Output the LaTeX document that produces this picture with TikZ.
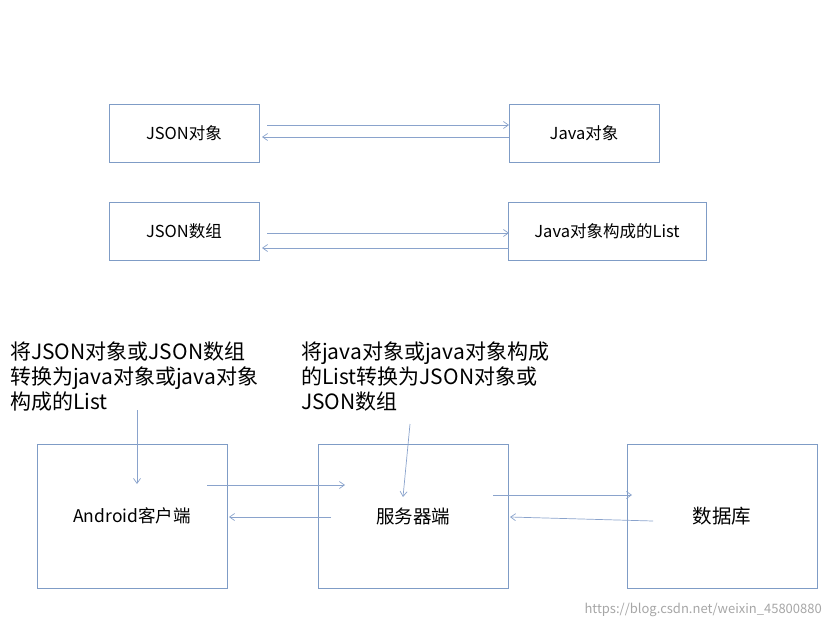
\documentclass[tikz,border=0pt]{standalone}
\usepackage{fontspec}
\setmainfont{Noto Sans CJK SC}
\usetikzlibrary{arrows.meta}
\definecolor{bx}{HTML}{7F9CC6}
\definecolor{ar}{HTML}{8AA3CC}
\begin{document}
\begin{tikzpicture}[x=1pt,y=-1pt,
 box/.style={draw=bx,line width=0.8pt,inner sep=0pt,font=\fontsize{16.5}{18}\selectfont},
 arr/.style={draw=ar,line width=0.7pt,-{Straight Barb[length=5pt,width=7pt]}},
 note/.style={anchor=north west,align=left,inner sep=0pt,font=\fontsize{21}{25}\selectfont}]
\useasboundingbox (0,0) rectangle (834,629);
\node[box,minimum width=150pt,minimum height=58pt] (jo) at (184,133) {JSON对象};
\node[box,minimum width=150pt,minimum height=58pt] (ja) at (584,133) {Java对象};
\node[box,minimum width=150pt,minimum height=58pt] (js) at (184,231) {JSON数组};
\node[box,minimum width=198pt,minimum height=58pt] (jl) at (607,231) {Java对象构成的List};
\draw[arr] (267,125) -- (509,125);
\draw[arr] (509,137) -- (262,137);
\draw[arr] (267,233) -- (509,233);
\draw[arr] (509,248) -- (262,248);
\node[box,minimum width=190pt,minimum height=144pt,font=\fontsize{17.5}{19}\selectfont] (an) at (132,516) {Android客户端};
\node[box,minimum width=190pt,minimum height=144pt,font=\fontsize{18.5}{19}\selectfont] (sv) at (413,516) {服务器端};
\node[box,minimum width=190pt,minimum height=144pt,font=\fontsize{19.5}{20}\selectfont] (db) at (722,516) {数据库};
\draw[arr] (207,485) -- (345,485);
\draw[arr] (331,517) -- (229,517);
\draw[arr] (493,495) -- (632,495);
\draw[arr] (653,521) -- (510,517);
\node[note] (n1) at (10,342) {将JSON对象或JSON数组\\转换为java对象或java对象\\构成的List};
\node[note] (n2) at (301,342) {将java对象或java对象构成\\的List转换为JSON对象或\\JSON数组};
\draw[arr] (137,410) -- (137,484);
\draw[arr] (410,424) -- (403,497);
\node[anchor=east,text=gray!70,font=\fontsize{13}{14}\selectfont,inner sep=0pt] (wm) at (822,610) {https://blog.csdn.net/weixin\_45800880};
\end{tikzpicture}
\end{document}
